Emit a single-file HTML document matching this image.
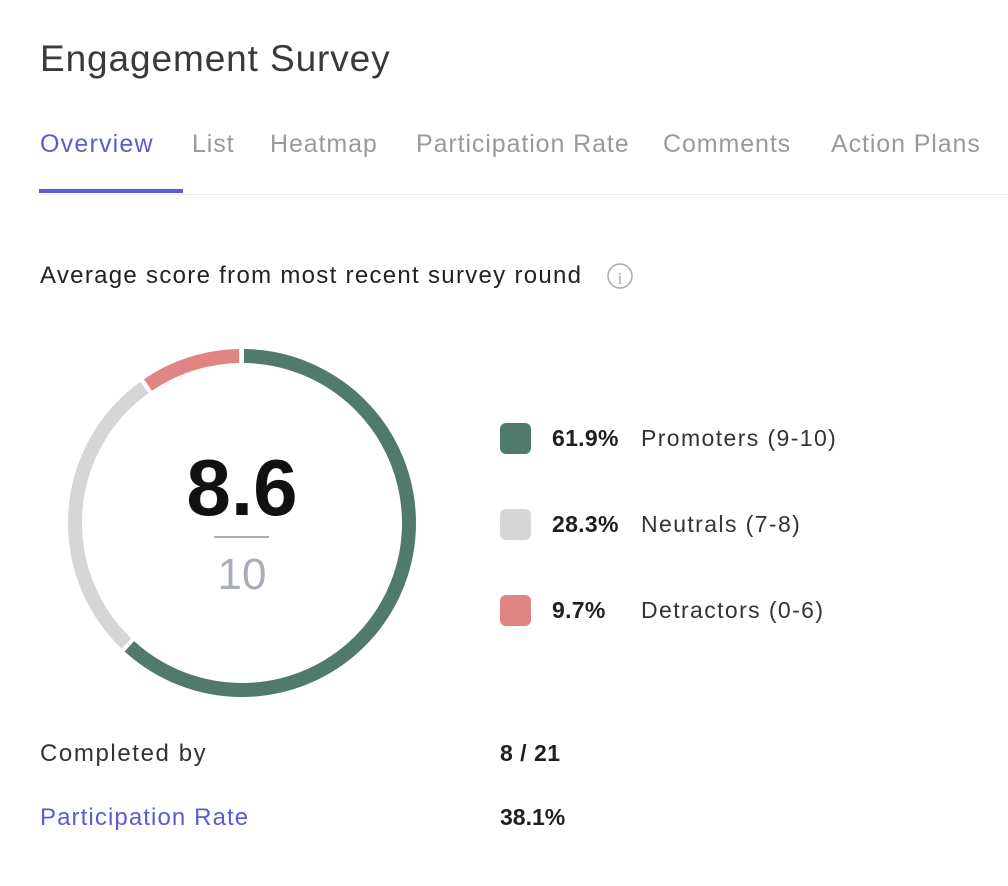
<!DOCTYPE html>
<html><head><meta charset="utf-8"><style>
body{margin:0;width:1008px;height:886px;background:#fff;font-family:"Liberation Sans",sans-serif;position:relative;overflow:hidden}
.a{position:absolute;white-space:nowrap;line-height:1}
.tab{top:132px;font-size:25px;color:#9a9a9a;letter-spacing:0.9px}
.sq{position:absolute;left:500px;width:31px;height:31px;border-radius:6px}
.pc{left:552px;font-size:23px;font-weight:bold;color:#1f1f1f;letter-spacing:0.3px}
.lb{left:641px;font-size:23px;color:#333;letter-spacing:1.4px}
</style></head><body>
<div class="a" style="left:40px;top:40px;font-size:37px;color:#3a3a3a;letter-spacing:0.9px">Engagement Survey</div>
<div class="a tab" style="left:40px;color:#5b5bd6;letter-spacing:1.2px">Overview</div>
<div class="a tab" style="left:192px">List</div>
<div class="a tab" style="left:270px">Heatmap</div>
<div class="a tab" style="left:416px">Participation Rate</div>
<div class="a tab" style="left:663px">Comments</div>
<div class="a tab" style="left:831px">Action Plans</div>
<div style="position:absolute;left:39px;top:194px;width:969px;height:1px;background:#ececec"></div>
<div style="position:absolute;left:39px;top:189px;width:144px;height:4px;background:#5b5bd6"></div>
<div class="a" style="left:40px;top:264px;font-size:24px;color:#222;letter-spacing:1.3px">Average score from most recent survey round</div>
<svg style="position:absolute;left:0;top:0" width="1008" height="886">
<circle cx="620" cy="276" r="12" fill="none" stroke="#a8a8a8" stroke-width="1.5"/>
<text x="620" y="284" font-family="Liberation Serif" font-size="17" fill="#a8a8a8" text-anchor="middle">i</text>
<g transform="rotate(-90 242 523)" fill="none" stroke-width="14">
<circle cx="242" cy="523" r="167" stroke="#507b6c" stroke-dasharray="646 1000" stroke-dashoffset="-2"/>
<circle cx="242" cy="523" r="167" stroke="#d6d6d6" stroke-dasharray="293 1000" stroke-dashoffset="-652"/>
<circle cx="242" cy="523" r="167" stroke="#e08484" stroke-dasharray="97 1000" stroke-dashoffset="-949"/>
</g>
<line x1="214" y1="537" x2="269" y2="537" stroke="#a8adb9" stroke-width="2"/>
</svg>
<div class="a" style="left:142px;top:448px;width:200px;text-align:center;font-size:80px;font-weight:bold;color:#111">8.6</div>
<div class="a" style="left:142px;top:553px;width:200px;text-align:center;font-size:44px;color:#a8adb9">10</div>
<div class="sq" style="top:423px;background:#507b6c"></div>
<div class="sq" style="top:509px;background:#d6d6d6"></div>
<div class="sq" style="top:595px;background:#e08484"></div>
<div class="a pc" style="top:427px">61.9%</div><div class="a lb" style="top:427px">Promoters (9-10)</div>
<div class="a pc" style="top:513px">28.3%</div><div class="a lb" style="top:513px">Neutrals (7-8)</div>
<div class="a pc" style="top:599px">9.7%</div><div class="a lb" style="top:599px">Detractors (0-6)</div>
<div class="a" style="left:40px;top:742px;font-size:24px;color:#333;letter-spacing:1.6px">Completed by</div>
<div class="a" style="left:500px;top:742px;font-size:23px;font-weight:bold;color:#1f1f1f;letter-spacing:0.5px">8 / 21</div>
<div class="a" style="left:40px;top:806px;font-size:24px;color:#5b5bd6;letter-spacing:1.1px">Participation Rate</div>
<div class="a" style="left:500px;top:806px;font-size:23px;font-weight:bold;color:#1f1f1f">38.1%</div>
</body></html>
